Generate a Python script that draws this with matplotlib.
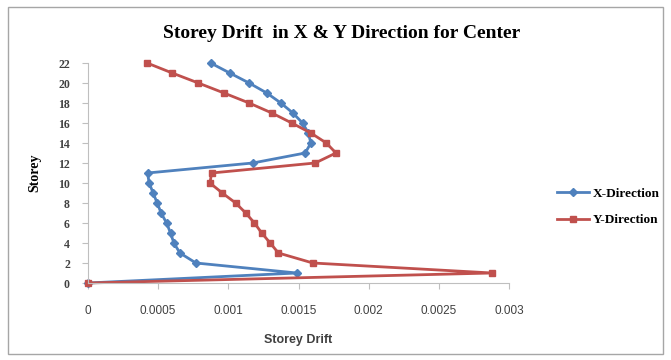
import matplotlib
matplotlib.use("Agg")
import matplotlib.pyplot as plt
from matplotlib.patches import Rectangle

# storey numbers and drift values for the two directions
storey = list(range(0, 23))
x_drift = [0, 0.001488, 0.000769, 0.000655, 0.000612, 0.000588, 0.00056, 0.000521,
           0.000493, 0.000464, 0.000436, 0.000424, 0.001174, 0.001548, 0.001588,
           0.00157, 0.001529, 0.00146, 0.001374, 0.001274, 0.001148, 0.00101, 0.000874]
y_drift = [0, 0.00288, 0.001602, 0.001357, 0.001298, 0.001238, 0.001186, 0.001124,
           0.001052, 0.000957, 0.000869, 0.000881, 0.001619, 0.001767, 0.001698,
           0.001588, 0.001452, 0.00131, 0.001148, 0.000969, 0.000786, 0.0006, 0.000421]

x_ticks = [0, 0.0005, 0.001, 0.0015, 0.002, 0.0025, 0.003]
x_tick_labels = ["0", "0.0005", "0.001", "0.0015", "0.002", "0.0025", "0.003"]
y_ticks = list(range(0, 23, 2))

blue = "#4F81BD"
red = "#C0504D"
serif = "Liberation Serif"
sans = "Liberation Sans"

fig = plt.figure(figsize=(6.71, 3.6), dpi=100)
W, H = 671, 360

# outer chart frame
fig.patches.append(Rectangle((8 / W, 6 / H), 655 / W, 347 / H, transform=fig.transFigure,
                             fill=False, edgecolor="#A6A6A6", linewidth=1.0))

ax = fig.add_axes([88 / W, 1 - 283 / H, (509 - 88) / W, (283 - 63) / H])
ax.plot(x_drift, storey, color=blue, marker="D", markersize=4.5, linewidth=2,
        label="X-Direction", clip_on=False)
ax.plot(y_drift, storey, color=red, marker="s", markersize=4.5, linewidth=2,
        label="Y-Direction", clip_on=False)

ax.set_xlim(0, 0.003)
ax.set_ylim(0, 22)
ax.set_xticks(x_ticks)
ax.set_xticklabels(x_tick_labels, fontsize=8.5, family=sans, color="#404040")
ax.set_yticks(y_ticks)
ax.set_yticklabels([str(t) for t in y_ticks], fontsize=8.5, family=serif,
                   fontweight="bold", color="#404040")
ax.tick_params(axis="both", direction="out", length=4, width=0.8, color="#BFBFBF")
ax.tick_params(axis="x", pad=12)
ax.tick_params(axis="y", pad=9)
for side in ["top", "right"]:
    ax.spines[side].set_visible(False)
for side in ["left", "bottom"]:
    ax.spines[side].set_color("#BFBFBF")
    ax.spines[side].set_linewidth(0.8)

ax.set_xlabel("Storey Drift", fontsize=9, family=sans, fontweight="bold", color="#404040",
              labelpad=12)
ax.set_ylabel("Storey", fontsize=10, family=serif, fontweight="bold", labelpad=12)

fig.text(342 / W, 1 - 33 / H, "Storey Drift  in X & Y Direction for Center",
         ha="center", va="center", fontsize=14, family=serif, fontweight="bold")

ax.legend(loc="center left", bbox_to_anchor=(545 / W, 1 - 207 / H),
          bbox_transform=fig.transFigure, frameon=False,
          prop={"family": serif, "weight": "bold", "size": 9.5},
          handlelength=2.4, labelspacing=1.1, handletextpad=0.3)

fig.savefig("out.png", dpi=100)
